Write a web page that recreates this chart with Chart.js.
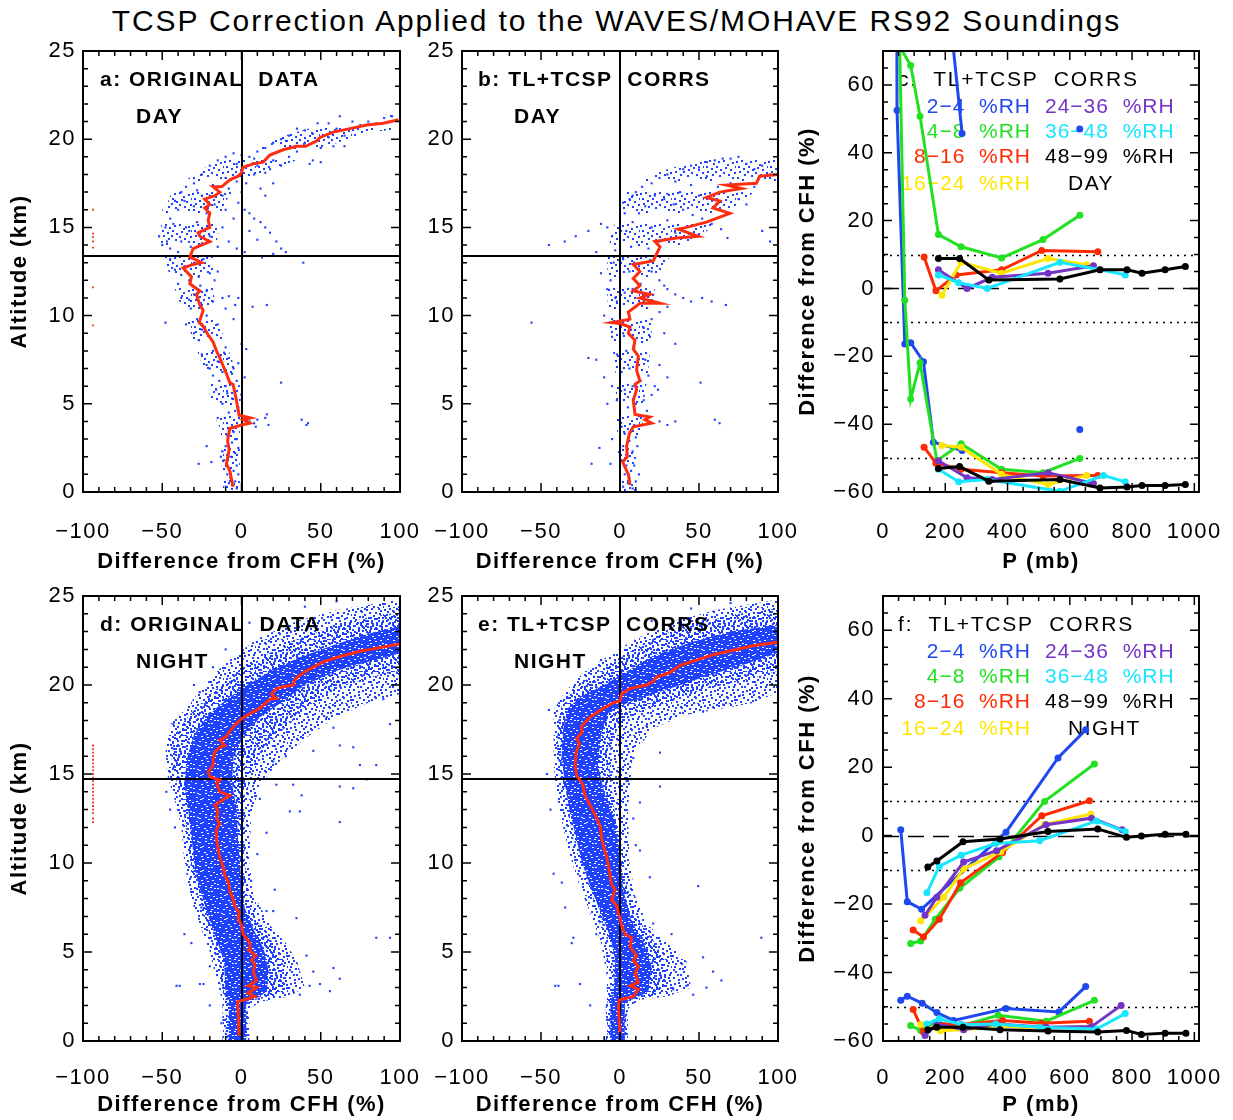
<!DOCTYPE html>
<html lang="en">
<head>
<meta charset="UTF-8">
<title>TCSP Correction Applied to the WAVES/MOHAVE RS92 Soundings</title>
<script src="https://cdn.jsdelivr.net/npm/chart.js@4.4.0/dist/chart.umd.min.js"></script>
<style>
    body { margin: 0; background: #fff; width: 1233px; height: 1120px; position: relative; overflow: hidden;
           font-family: "Liberation Sans", Arial, sans-serif; }
    #title { position: absolute; top: 1px; left: 0; width: 1233px; text-align: center;
             font-size: 30px; line-height: 40px; letter-spacing: 1.9px; color: #000; }
    canvas { position: absolute; left: 0; top: 0; }
</style>
</head>
<body>
<div id="title">TCSP Correction Applied to the WAVES/MOHAVE RS92 Soundings</div>
<canvas id="pa" width="1233" height="1120"></canvas>
<canvas id="pb" width="1233" height="1120"></canvas>
<canvas id="pc" width="1233" height="1120"></canvas>
<canvas id="pd" width="1233" height="1120"></canvas>
<canvas id="pe" width="1233" height="1120"></canvas>
<canvas id="pf" width="1233" height="1120"></canvas>

<script>
// ---- tick labels ----
var diffTicks = [-100, -50, 0, 50, 100];
var altTicks = [0, 5, 10, 15, 20, 25];
var pTicks = [0, 200, 400, 600, 800, 1000];
var pctTicks = [-60, -40, -20, 0, 20, 40, 60];

// ---- data: profile panels (x = difference from CFH %, y = altitude km) ----
var tropoDay = 13.4;
var tropoNight = 14.7;

// mean profile, panel a
var redA = [[-5.3,0.3],[-7.4,1.2],[-9.5,1.6],[-7.8,2.4],[-8.8,2.9],[-7.4,3.6],[0,3.8],[5.3,3.9],[1,4.1],[5.6,4.2],[-1.5,4.35],[-3.2,5.2],[-5.3,6.1],[-7.4,6.2],[-9.5,6.7],[-13.7,7.6],[-15.8,8.0],[-17.9,8.5],[-21,8.9],[-24.2,9.4],[-26.7,9.6],[-24.2,10.3],[-26.3,10.6],[-28.4,11.2],[-26.3,11.4],[-32.6,11.8],[-31.6,12.2],[-35.8,12.6],[-36.8,12.7],[-30.5,12.9],[-25.3,13.0],[-29.5,13.2],[-32.6,13.3],[-30.5,13.8],[-25.3,14.0],[-20,14.2],[-26.3,14.5],[-27.4,14.7],[-20,15.0],[-21,15.4],[-20,15.8],[-23.2,16.1],[-20,16.3],[-23.2,16.6],[-16.8,16.8],[-13.7,17.0],[-17.9,17.3],[-12.6,17.3],[-7.4,17.7],[-2.1,17.9],[0,18.1],[1,18.4],[7.4,18.6],[13.7,18.7],[17.9,19.1],[26.3,19.4],[34.7,19.6],[40.5,19.6],[47.4,19.9],[49.5,20.1],[57.9,20.4],[68.4,20.6],[78.9,20.8],[89.5,20.9],[99,21.1]];
var dotsA = [
  [-10,0.3],[-8,0.5],[-6,0.4],[-4,0.6],[-3,0.2],[-9,1.0],[-5,1.2],[-3,1.5],[-11,1.8],[-7,2.0],[-4,2.2],[-10,2.6],[-6,2.8],[-3,3.0],[-9,3.2],[-5,3.4],[-12,2.3],[-2,1.0],[-2,2.5],[-27,1.6],[-19,1.7],[-22,2.6],[-13,2.0],[-7,0.8],[-11,1.3],[-4,3.0],[-8,3.5],
  [-15,4.2],[-8,4.5],[-2,4.8],[-12,5.0],[-6,5.3],[0,5.5],[-16,5.8],[-10,6.0],[-3,6.3],[-18,6.6],[-12,6.8],[-5,7.0],[-22,7.2],[-15,7.4],[-8,7.6],[-2,7.3],[-25,7.8],[-18,8.0],[-10,8.2],[5,4.0],[8,3.9],[10,4.1],[15,4.2],[17,3.8],[38,4.1],[42,3.9],[41,3.8],[25,6.2],[2,6.5],[0,8.4],[3,8.1],[-4,4.6],[-9,5.6],[-14,6.3],[-20,7.0],[-6,6.7],[-11,7.9],[16,4.4],[9,3.7],
  [-30,9.0],[-25,9.2],[-20,8.8],[-35,9.5],[-28,9.8],[-22,10.0],[-15,9.5],[-32,10.4],[-25,10.6],[-18,10.8],[-38,11.0],[-30,11.2],[-22,11.4],[-12,11.0],[-40,11.8],[-33,12.0],[-27,12.2],[-20,12.4],[-42,12.6],[-36,12.8],[-30,13.0],[-24,13.2],[-45,13.2],[-15,12.5],[-8,11.1],[-2,11.0],[-10,10.4],[-5,9.8],[-48,9.6],[7,10.5],[16,10.6],[39,13.0],[-27,8.6],[-33,10.9],[-38,12.3],[-26,11.7],[-17,12.0],[-4,10.6],
  [-50,14],[-52,14.5],[-48,15],[-45,15.5],[-40,16],[-42,16.5],[-38,17],[-35,17.3],[-30,17.5],[-25,18],[-20,18.5],[-15,18.8],[-10,19],[-5,19.2],[-45,13.8],[-38,14.2],[-33,14.8],[-28,15.3],[-22,15.8],[-17,16.3],[-12,16.8],[-8,17.2],[-3,17.6],[-35,15],[-30,16.2],[-25,16.8],[-18,17.4],[-10,17.8],[-12,15],[-8,14.2],[-5,15.5],[-2,16.4],[2,16],[5,15.8],[8,15.5],[12,15.3],[15,15],[18,14.7],[22,14.2],[25,13.8],[28,13.6],[10,14.3],[5,14.8],[0,17],[3,17.5],[8,18],[12,17.2],[15,16.8],[20,17.5],[18,18.3],[25,18.5],[-20,14.5],[-15,13.9],[-25,14.1],[-10,16],[-20,16.8],[13,13.3],[20,13.5],[2,13.6],[-3,13.8],[-47,14.2],[-43,15.2],[-36,16.5],[-28,17.1],[-40,13.6],[-32,13.9],
  [5,19],[10,19.3],[15,19.5],[20,19.8],[25,20],[30,20.2],[35,19.3],[40,19.8],[45,20.3],[50,19.5],[55,20.1],[60,20.6],[65,20.2],[70,21],[75,20.8],[80,21],[85,20.9],[90,21.2],[95,21.3],[100,21],[30,19],[40,20.5],[20,18.8],[45,18.8],[35,20.6],[55,20.9],[62,21.3],[48,20.9],[28,19.9],[58,19.6],[65,19.6],[43,18.6],[50,18.7],[10,18.5],[0,19.1],[-3,18.6],[15,18.1],[8,18.9]
];
var flagA = [[-93.7,16.0],[-93.7,14.65],[-93.7,14.45],[-93.7,14.2],[-93.7,13.85],[-93.7,11.6],[-93.7,9.45]];
var bandA = [[-12,0],[-13,3.5],[-18,4.5],[-22,6.5],[-30,8.5],[-36,10],[-42,11.5],[-48,13],[-52,14.2],[-50,15.5],[-45,16.8],[-38,17.5],[-25,18.3],[-8,19],[10,19.5],[30,20.3],[55,20.9],[100,21.5],[100,20.6],[75,20.3],[55,19.6],[35,18.8],[15,18.2],[0,17.6],[-10,16.5],[-15,14.5],[-18,13],[-18,11.5],[-14,9.5],[-6,7.5],[-1,6],[0,4.5],[-1,3.5],[-1,0]];
var coreA = [[-11,0],[-12,3.5],[-16,5],[-20,7],[-27,8.5],[-33,10],[-38,11.5],[-42,12.8],[-50,13.8],[-50,16],[-42,17],[-32,17.3],[-24,16],[-24,14],[-26,12.5],[-22,11],[-17,9.5],[-10,8],[-4,6],[-2,4.5],[-2,3.5],[-2,0]];

// mean profile, panel b
var redB = [[6.3,0.4],[5.3,1.0],[3.2,1.4],[1.7,1.7],[4.6,2.0],[4.2,2.6],[5.9,3.3],[8.4,3.7],[20,3.9],[15.8,4.1],[18.9,4.25],[9.5,4.4],[8.4,5.2],[10.5,5.8],[9.5,6.1],[12.6,6.3],[10.5,6.9],[11.6,7.7],[8.4,8.1],[9.5,8.6],[5.3,9.0],[6.3,9.35],[0,9.55],[-5.3,9.6],[6.3,9.8],[5.3,10.2],[12.6,10.7],[25.3,10.7],[12.6,11.0],[18.9,11.2],[8.4,11.4],[12.6,11.7],[8.4,12.1],[12.6,12.5],[8.4,12.9],[21,13.1],[23.2,13.5],[25.3,13.9],[22.1,14.2],[35.8,14.4],[49.5,14.5],[36.8,14.9],[42.1,15.0],[54.7,15.3],[69.5,15.8],[58.9,16.1],[63.2,16.5],[54.7,16.7],[63.2,17.0],[76.8,17.2],[67.4,17.4],[86.3,17.5],[88.4,17.9],[100,18.0]];
var dotsB = [
  [2,0.3],[5,0.5],[8,0.2],[10,0.6],[3,1],[7,1.2],[9,1.5],[1,1.8],[4,2.1],[8,2.3],[2,2.6],[6,2.9],[10,3.1],[3,3.3],[7,3.5],[1,3.7],[-6,1.6],[-13,2.5],[-18,1.6],[-5,3],[12,1],[6,0.8],[4,1.5],[11,2.6],[9,3.8],
  [0,4.5],[5,4.8],[10,5],[15,5.2],[20,5.5],[3,5.8],[8,6],[13,6.3],[18,6.6],[1,6.8],[6,7],[11,7.3],[16,7.5],[-2,7.8],[4,8],[9,8.2],[14,8.5],[19,8.8],[2,9],[7,9.2],[25,4],[30,3.8],[35,4],[60,4.1],[63,3.9],[51,6.2],[30,6.5],[25,7.2],[-10,6.5],[-15,7.5],[-20,7.6],[-5,6],[-8,5],[22,6],[35,8.4],[28,9],[-5,8.8],[-3,9.6],[-56,9.6],[12,4.3],[17,4.6],[24,5.8],[-2,5.2],
  [-5,9.8],[0,10],[5,10.2],[10,10.5],[15,10.8],[-3,11],[3,11.3],[8,11.5],[13,11.8],[-6,12],[0,12.2],[6,12.5],[12,12.8],[-4,13],[2,13.2],[20,12.5],[25,12],[30,11.5],[35,11.2],[40,11],[45,10.8],[52,11],[58,10.8],[67,10.6],[20,9.8],[25,10.2],[30,10.5],[-10,10],[-12,12.4],[-8,11.5],[15,9.3],[28,11.7],[18,11.1],[-2,10.8],[9,13],
  [-45,14],[-35,14.2],[-28,14.5],[-20,14.8],[-12,15.2],[-8,15],[-5,14.5],[0,14.3],[4,14.8],[8,15.3],[12,15.8],[16,16.2],[6,16.6],[2,16.4],[10,17],[14,17.3],[20,17.5],[25,17.8],[30,18],[35,17.6],[40,18.3],[45,18.5],[50,18.4],[55,18.7],[60,18.8],[65,18.9],[70,18.9],[75,19],[80,18.6],[85,18.3],[90,18.5],[95,18],[100,18.2],[22,16.8],[28,16.6],[34,16.3],[40,16],[46,15.7],[52,15.5],[58,15.2],[64,14.9],[68,14.4],[30,15.4],[20,15],[25,14.2],[35,14.7],[45,14.4],[18,13.8],[12,14],[90,14.8],[95,14.2],[80,16.3],[85,17.3],[70,17.5],[75,16.6],[62,17.3],[50,16.8],[38,17],[45,17.4],[55,17.9],[30,16.9],[-15,13.6],[-3,13.7],[7,13.9],[3,15.8],[8,16.8]
];
var bandB = [[2,0],[-1,1.5],[-2,4],[-3,7],[-6,9],[-8,11],[-8,13],[-6,14.5],[-2,15.5],[5,17.2],[15,17.8],[30,18.3],[50,18.8],[75,19],[100,18.8],[100,17.5],[85,17],[70,16],[55,14.8],[40,14],[28,13],[22,11.5],[20,9],[18,7],[15,5],[14,3.5],[10,2.5],[10,0]];
var coreB = [[3,0],[0,1.5],[-1,4],[0,7],[-2,9],[-5,11],[-5,13],[0,13.5],[10,13],[15,11],[15,8],[14,6],[12,4],[10,2.5],[9,0]];

// mean profile, panel d
var redD = [[-1.5,0.3],[-2.1,1.5],[-2.5,2.2],[1,2.3],[8.4,2.5],[4.2,2.7],[9.5,3.0],[4.2,3.1],[9.5,3.4],[7.4,3.9],[8.4,4.3],[6.3,4.55],[9,4.8],[4.8,5.1],[5.3,5.5],[1,6],[0,6.5],[-2.1,6.9],[-1.5,7.2],[-4.2,7.6],[-5.3,8],[-7.4,8.4],[-8.4,8.95],[-10.5,9.3],[-11.6,9.8],[-13.7,10.3],[-14.7,10.8],[-15.8,11.4],[-15.8,11.9],[-13.7,12.2],[-15.8,12.5],[-14.7,12.9],[-16.8,13.25],[-12.6,13.5],[-7.4,13.8],[-13.7,14],[-15.8,14.5],[-13.7,14.65],[-20,14.85],[-21,15.1],[-17.9,15.5],[-17.9,15.9],[-16.8,16.25],[-13.7,16.5],[-10.5,16.6],[-13.7,16.9],[-9.5,17.1],[-7.4,17.4],[-4.2,17.75],[0,18.1],[5.3,18.4],[11.6,18.7],[17.9,19.2],[22.1,19.25],[18.9,19.5],[22.1,19.8],[26.3,19.9],[32.6,20],[33.7,20.3],[36.8,20.55],[41,20.8],[45.3,21.0],[51.6,21.3],[62,21.6],[74.7,21.9],[87.4,22.1],[100,22.3]];
var outD = [[-47.4,14],[-43,17.8],[-26.3,19.6],[-41,3.1],[-39,3.1],[-31.6,5.5],[-26.3,3.2],[-24,3.2],[-20,2.0],[-12.6,1.0],[-25.3,7.5],[58,4.1],[62,3.5],[55.8,2.8],[49.5,3.2],[43,3.1],[36.8,2.6],[32.6,2.8],[41,4.8],[45.3,3.9],[85,5.8],[93.7,5.8],[62,12.3],[36.8,12.9],[30.5,12.9],[37.9,13.8],[62,14.3],[70.5,14.2],[32.6,14.4],[11.6,13.6],[15.8,11.7],[21,8.5],[15.8,7.3],[20,7.3],[34.7,6.9],[22,14.4],[20,15.7],[45.3,16.3],[62,16.6],[70.5,16.5],[74.7,15.5],[85,15.5],[93.7,17.8],[78.9,14.7],[53.7,18.2],[58,17.6],[89.5,19.2],[95.8,20],[-18,21],[-10,22],[5,23.5],[40,24.4],[60,24.7],[-30,20],[28,16],[10,10.5],[6,9],[-36,6],[-20,4.2],[-42,12],[-45,13]];
var flagD = [[-93.7,12.3],[-93.7,12.5],[-93.7,12.8],[-93.7,13.0],[-93.7,13.2],[-93.7,13.4],[-93.7,13.6],[-93.7,13.8],[-93.7,14.0],[-93.7,14.2],[-93.7,14.4],[-93.7,14.6],[-93.7,14.8],[-93.7,15.0],[-93.7,15.2],[-93.7,15.4],[-93.7,15.6],[-93.7,15.8],[-93.7,16.0],[-93.7,16.2],[-93.7,16.4],[-93.7,16.6]];
var coreD = [[-8,0],[-8,2.3],[-10,2.6],[-11,4.5],[-15,5.5],[-20,6.8],[-25,8.2],[-29,9.5],[-31,11],[-33,12.5],[-35,13.8],[-36,14.6],[-34,16],[-30,17.2],[-22,18.2],[-12,19],[0,19.8],[15,20.6],[35,21.5],[60,22.3],[85,23],[100,23.3],[100,21.8],[80,21.3],[60,20.8],[40,20],[25,19],[12,18.2],[2,17.2],[-5,16],[-6,14.5],[-3,13],[-2,11],[0,9],[2,7.5],[8,6.2],[14,5.2],[17,4],[16,2.8],[10,2.4],[3,2.2],[3,0]];
var midD = [[-10,0],[-10,2.3],[-13,3],[-14,4.5],[-18,5.5],[-23,6.8],[-28,8.2],[-32,9.8],[-34,11.5],[-37,13],[-40,14.3],[-44,15.5],[-44,16.8],[-38,17.8],[-30,18.6],[-18,19.6],[-6,20.5],[10,21.4],[30,22.4],[55,23.2],[80,23.8],[100,24.1],[100,20.8],[80,20.4],[60,19.8],[45,19],[30,17.8],[18,16.8],[8,15.5],[2,13.5],[2,11],[3,9],[5,7.6],[12,6.4],[20,5.5],[26,4.4],[28,3],[20,2.5],[8,2.3],[4,2],[4,0]];
var haloD = [[-12,0],[-12,2.2],[-16,3.5],[-20,5],[-25,6.2],[-32,8],[-36,10],[-38,12],[-42,13.5],[-47,15],[-48,16.5],[-45,17.8],[-36,18.6],[-25,19.8],[-15,20.8],[-5,21.6],[10,22.6],[35,23.6],[60,24.2],[100,24.8],[100,19.5],[80,19],[60,18.2],[40,17],[25,15.8],[12,14.5],[6,12.5],[5,10],[8,8.2],[18,6.5],[28,5.5],[35,4.5],[40,3],[30,2.5],[12,2.2],[5,1.8],[5,0]];

// mean profile, panel e
var redE = [[0,0.4],[-0.6,1.3],[-1,2],[-0.4,2.3],[8.4,2.5],[11.6,2.9],[6.3,3.1],[11.6,3.3],[9.5,3.8],[11.6,4.2],[8.4,4.5],[10.5,4.8],[6.3,5.3],[7.4,5.8],[3.2,6.0],[1,6.5],[0,6.9],[-1,7.2],[-2.1,7.6],[-5.3,7.9],[-3.2,8.5],[-5.3,8.8],[-6.3,9.3],[-7.4,9.9],[-8.4,10.3],[-10,10.8],[-11.6,11.4],[-12.6,12.1],[-15.8,12.7],[-18.9,13.25],[-22.1,13.8],[-23.6,14.4],[-25.3,14.65],[-27.4,14.9],[-28.4,15.5],[-27.8,16.2],[-25.7,16.7],[-27.4,17],[-24.6,17.3],[-24.2,17.7],[-18.9,18.2],[-10.5,18.7],[-4.2,19],[0,19.1],[1,19.5],[6.3,19.8],[16.8,20],[21,20.2],[23.2,20.45],[31.6,20.7],[37.9,21.1],[48.4,21.4],[58.9,21.7],[71.6,21.95],[84.2,22.2],[100,22.4]];
var outE = [[-41,3.1],[-39,3.1],[-30.5,5.5],[-25.3,3.2],[-18.9,2.0],[-42,9.4],[-36.8,8.9],[-34.7,7.5],[-29.5,5.8],[-46.3,15],[-45,18.6],[64.2,3.4],[58.9,3.9],[52.6,4.7],[42,3.1],[33.7,2.9],[46.3,2.6],[54.7,3.0],[49.5,8.7],[89.5,5.8],[25.3,16.2],[25.3,14.3],[12.6,10.7],[18.9,9.2],[32.6,6.0],[21,6.6],[12.6,13.4],[8.4,12.5],[4.2,14.6],[8.4,15.9],[16.8,17.7],[31.6,18.1],[52.6,18.5],[65.3,18.9],[75.8,19.4],[84.2,19.6],[-12,21.4],[0,22.5],[20,23.6],[45,24.3],[70,24.6],[-8,4.5],[-15,6],[10,11],[-44,13]];
var coreE = [[-6,0],[-6,2.3],[-4,2.6],[-3,4.5],[-6,5.8],[-12,7.2],[-18,8.5],[-24,10],[-28,11.5],[-32,13],[-35,14.5],[-37,16],[-36,17.5],[-33,18.7],[-24,19.4],[-10,20],[5,20.8],[20,21.6],[45,22.4],[70,23],[100,23.4],[100,21.8],[80,21.2],[55,20.5],[35,19.9],[18,19.4],[5,19],[-8,18.4],[-12,17.2],[-14,15.5],[-10,14],[-4,12.5],[0,10.5],[2,8.5],[7,6.8],[15,5.5],[20,4.2],[18,2.8],[10,2.4],[3,2.2],[3,0]];
var midE = [[-8,0],[-8,2.3],[-6,3],[-5,4.5],[-9,6],[-15,7.5],[-21,9],[-27,10.5],[-31,12],[-35,13.5],[-38,15],[-40,16.5],[-39,18],[-36,19.2],[-25,20.1],[-10,20.9],[5,21.8],[25,22.8],[50,23.5],[75,24],[100,24.3],[100,20.8],[80,20.3],[55,19.8],[35,19.2],[18,18.7],[2,18],[-5,17],[-6,15],[-4,13.2],[1,11],[4,8.8],[10,7],[20,5.8],[28,4.6],[30,3],[20,2.5],[8,2.3],[4,2],[4,0]];
var haloE = [[-9,0],[-9,2.2],[-8,3.5],[-12,5.5],[-18,7],[-26,8.8],[-32,10.5],[-36,12],[-40,13.8],[-42,15.5],[-42,17.2],[-42,18.6],[-35,19.6],[-22,20.8],[-8,21.6],[10,22.6],[35,23.6],[60,24.2],[100,24.8],[100,19.6],[85,19],[60,18.6],[40,18.3],[20,17.5],[8,16],[5,13],[6,10],[10,8],[18,6.5],[30,5.5],[42,4.5],[45,3],[30,2.5],[12,2.3],[5,1.8],[5,0]];

// ---- data: pressure panels (x = P mb, y = difference from CFH %) ----
var rhBins = ['2\u22124  %RH', '4\u22128  %RH', '8\u221216  %RH', '16\u221224  %RH', '24\u221236  %RH', '36\u221248  %RH', '48\u221299  %RH'];

var cBlueLo = [[44,110],[45,52.5],[70,-16.4],[89,-16],[130,-21.6],[162,-45.3],[254,-47.8]];
var cBlueHi = [[200,94],[254,45.7]];
var cBlueLone = [[632,47],[632,-41.6]];
var cGreenHi = [[40,73.5],[89,65.7],[119,50.8],[178,15.9],[251,12.3],[381,9],[514,14.4],[632,21.6]];
var cGreenLo = [[45,110],[70,-3.5],[89,-32.6],[119,-21.9],[173,-50.8],[251,-45.8],[381,-53.3],[514,-54.3],[632,-50.1]];
var cRedHi = [[132,9.3],[170,-0.7],[235,4],[381,5.5],[510,11.2],[690,10.8]];
var cRedLo = [[132,-46.8],[170,-51.5],[251,-53.3],[381,-54.3],[514,-55.3],[690,-55.1]];
var cYellowHi = [[189,-2],[251,7.7],[381,4.5],[530,8.8],[654,7.0]];
var cYellowLo = [[189,-46.3],[251,-46.8],[381,-54.8],[530,-57.8],[654,-55.1]];
var cPurpleHi = [[178,5.5],[270,0],[351,3.3],[530,4.5],[676,6.7]];
var cPurpleLo = [[178,-50.8],[270,-55.8],[351,-56.3],[530,-54.3],[676,-57.5]];
var cCyanHi = [[178,4],[243,1.7],[335,0],[568,7.7],[697,5.5],[778,4]];
var cCyanLo = [[178,-53.3],[243,-57],[335,-56.3],[568,-59.8],[708,-55.1],[778,-57]];
var cBlackHi = [[178,8.8],[246,8.8],[340,2.5],[568,2.8],[697,5.5],[784,5.5],[832,4.5],[906,5.5],[971,6.5]];
var cBlackLo = [[178,-53.1],[246,-52.5],[340,-56.8],[568,-56.3],[697,-58.8],[784,-58.5],[832,-58.1],[906,-58.1],[971,-57.8]];

var fBlueHi = [[57,1.7],[78,-19.3],[124,-21.5],[395,1],[562,22.7],[651,30.9]];
var fBlueLo = [[57,-48.1],[78,-46.9],[126,-49],[173,-51.7],[227,-54],[395,-50.5],[565,-51.5],[651,-44.1]];
var fGreenHi = [[89,-31.5],[121,-30.8],[168,-24.4],[246,-15.4],[373,-6.2],[519,10],[679,20.9]];
var fGreenLo = [[89,-55.5],[121,-56.9],[168,-54.5],[243,-55.8],[370,-52.5],[524,-54.2],[679,-48.1]];
var fRedHi = [[97,-27.6],[130,-29.6],[181,-24.4],[249,-13.8],[384,-4.9],[510,5.8],[663,10.2]];
var fRedLo = [[97,-50.8],[130,-57.4],[181,-55],[251,-55.2],[384,-54],[508,-54.8],[663,-54.2]];
var fYellowHi = [[121,-24.9],[195,-18],[259,-9.7],[378,-4.7],[519,3.3],[668,6.3]];
var fYellowLo = [[121,-55.2],[184,-57],[259,-56.7],[378,-55.8],[519,-56.2],[668,-55.8]];
var fPurpleHi = [[135,-23.3],[173,-18],[259,-7.7],[365,-4.4],[524,3.2],[670,5.1],[768,1.7]];
var fPurpleLo = [[135,-58.4],[173,-55],[259,-56.7],[365,-55],[524,-56],[670,-55.8],[765,-49.6]];
var fCyanHi = [[141,-16.7],[181,-9],[251,-5.7],[362,-2.3],[503,-1.5],[686,4.3],[778,1.2]];
var fCyanLo = [[141,-55],[181,-53.5],[251,-55.2],[362,-55],[503,-56],[686,-56.5],[778,-52]];
var fBlackHi = [[144,-9.2],[173,-7.4],[257,-1.8],[376,-1],[530,1.2],[690,1.9],[782,-0.5],[830,-0.1],[906,0.4],[973,0.4]];
var fBlackLo = [[144,-56.7],[173,-56],[257,-56],[376,-56.7],[530,-57.1],[690,-57.4],[782,-56.9],[830,-58.1],[906,-57.7],[973,-57.7]];

// ---- styling ----
var W = 1233, H = 1120;
var FONT = '"Liberation Sans", Arial, sans-serif';
var DOT = 'rgb(30,66,255)';
var PROF = 'rgb(255,45,15)';
var COL = { blue: '#1f48ee', green: '#22e022', red: '#ff2a00', yellow: '#ffe600', purple: '#7434c4', cyan: '#18e6ff', black: '#000000' };

Chart.defaults.font.family = FONT;
Chart.defaults.color = '#000';

function xy(arr) { return arr.map(function(p) { return { x: p[0], y: p[1] }; }); }
function fmt(v) { return v < 0 ? '\u2212' + Math.abs(v) : String(v); }

// speckle layouts for the dot textures that shade the dense parts of the clouds
var SPECK = [[0,1],[5,0],[9,3],[14,1],[19,0],[23,4],[28,2],[31,6],[2,6],[7,8],[12,6],[16,9],[21,7],[26,9],[30,12],[3,11],
             [8,14],[11,11],[15,15],[19,12],[24,14],[28,17],[1,17],[6,19],[10,18],[13,21],[18,18],[22,20],[26,22],[30,24],[2,23],[7,25],
             [11,27],[15,24],[19,27],[23,25],[27,28],[31,30],[4,29],[9,31],[14,30],[17,22],[21,30],[25,31],[29,20],[0,27],[5,14],[17,4],
             [12,0],[26,0],[3,3],[20,15],[10,8],[24,10],[29,14],[6,22],[16,28],[13,17],[27,5],[8,2],[22,24],[1,9],[18,9],[30,27]];
var GAPS = [[1,0],[7,2],[13,1],[19,3],[22,0],[4,5],[10,6],[16,7],[21,8],[0,10],[6,11],[12,12],[18,11],[23,13],[3,15],
            [9,16],[15,17],[20,16],[1,20],[7,21],[13,22],[19,21],[5,1],[16,3],[10,19],[22,19],[4,9],[14,14],[8,7],[18,23]];

function texture(ctx, kind) {
    var c = document.createElement('canvas');
    var g = c.getContext('2d');
    if (kind === 'core') {
        c.width = c.height = 24;
        g.fillStyle = DOT;
        g.fillRect(0, 0, 24, 24);
        g.fillStyle = '#fff';
        GAPS.forEach(function(p) { g.fillRect(p[0], p[1], 2, 1); });
    } else {
        c.width = c.height = 32;
        g.fillStyle = DOT;
        var list = kind === 'sparse' ? SPECK.slice(0, 24) : SPECK;
        list.forEach(function(p) { g.fillRect(p[0], p[1], 2, 2); });
        if (kind === 'mid') SPECK.forEach(function(p) { g.fillRect((p[0] + 15) % 32, (p[1] + 17) % 32, 2, 2); });
    }
    return ctx.createPattern(c, 'repeat');
}

var DECO = {};

var decoPlugin = {
    id: 'deco',
    beforeInit: function(chart) { chart.ctx.letterSpacing = '1.5px'; },
    beforeDraw: function(chart) { chart.ctx.letterSpacing = '1.5px'; },
    beforeDatasetsDraw: function(chart) {
        var d = DECO[chart.canvas.id], ctx = chart.ctx, a = chart.chartArea;
        var x = chart.scales.x, y = chart.scales.y;
        ctx.save();
        ctx.beginPath();
        ctx.rect(a.left, a.top, a.right - a.left, a.bottom - a.top);
        ctx.clip();
        (d.polys || []).forEach(function(p) {
            ctx.beginPath();
            p.pts.forEach(function(q, i) {
                var px = x.getPixelForValue(q[0]), py = y.getPixelForValue(q[1]);
                if (i) ctx.lineTo(px, py); else ctx.moveTo(px, py);
            });
            ctx.closePath();
            ctx.fillStyle = texture(ctx, p.kind);
            ctx.fill();
        });
        (d.guides || []).forEach(function(l) {
            var py = Math.round(y.getPixelForValue(l.y)) + 0.5;
            ctx.beginPath();
            ctx.setLineDash(l.dash);
            ctx.lineWidth = l.w;
            ctx.strokeStyle = '#000';
            ctx.moveTo(a.left, py);
            ctx.lineTo(a.right, py);
            ctx.stroke();
        });
        ctx.restore();
        if (d.textUnder) drawTexts(chart, d.texts);
    },
    afterDatasetDraw: function(chart, args) {
        var d = DECO[chart.canvas.id];
        if (d.linesAfter !== args.index) return;
        var ctx = chart.ctx, a = chart.chartArea, x = chart.scales.x, y = chart.scales.y;
        ctx.save();
        ctx.strokeStyle = '#000';
        ctx.lineWidth = 2;
        ctx.beginPath();
        var px = Math.round(x.getPixelForValue(0));
        ctx.moveTo(px, a.top); ctx.lineTo(px, a.bottom);
        var py = Math.round(y.getPixelForValue(d.tropo));
        ctx.moveTo(a.left, py); ctx.lineTo(a.right, py);
        ctx.stroke();
        ctx.restore();
    },
    afterDatasetsDraw: function(chart) {
        var d = DECO[chart.canvas.id], ctx = chart.ctx, a = chart.chartArea;
        var x = chart.scales.x, y = chart.scales.y;
        ctx.save();
        ctx.strokeStyle = '#000';
        ctx.lineWidth = 2;
        ctx.strokeRect(a.left, a.top, a.right - a.left, a.bottom - a.top);
        ctx.lineWidth = 1.5;
        ctx.beginPath();
        var v, p, len;
        for (v = x.min; v <= x.max + 1e-6; v += d.xMinor) {
            p = x.getPixelForValue(v);
            len = Math.abs(v / d.xMajor - Math.round(v / d.xMajor)) < 1e-6 ? 9 : 5;
            ctx.moveTo(p, a.bottom); ctx.lineTo(p, a.bottom - len);
            ctx.moveTo(p, a.top); ctx.lineTo(p, a.top + len);
        }
        for (v = Math.ceil(y.min / d.yMinor) * d.yMinor; v <= y.max + 1e-6; v += d.yMinor) {
            p = y.getPixelForValue(v);
            len = Math.abs(v / d.yMajor - Math.round(v / d.yMajor)) < 1e-6 ? 9 : 5;
            ctx.moveTo(a.left, p); ctx.lineTo(a.left + len, p);
            ctx.moveTo(a.right, p); ctx.lineTo(a.right - len, p);
        }
        ctx.stroke();
        ctx.restore();
        if (!d.textUnder) drawTexts(chart, d.texts);
    }
};

function drawTexts(chart, texts) {
    var ctx = chart.ctx, a = chart.chartArea;
    ctx.save();
    ctx.textBaseline = 'middle';
    texts.forEach(function(t) {
        ctx.letterSpacing = (t.s === undefined ? 1.5 : t.s) + 'px';
        ctx.font = t.f + ' ' + FONT;
        ctx.fillStyle = t.c || '#000';
        ctx.textAlign = t.a || 'left';
        ctx.fillText(t.t, a.left + t.x, a.top + t.y);
    });
    ctx.restore();
}

function axis(s, size, dir) {
    return {
        type: 'linear', min: s.min, max: s.max,
        grid: { display: false, drawTicks: false },
        border: { display: false },
        ticks: { padding: s.pad, font: { size: 22 }, color: '#000', callback: fmt, maxRotation: 0, autoSkip: false },
        title: { display: !!s.title, text: s.title || '', font: { size: 22, weight: 'bold' }, color: '#000', padding: 0 },
        afterBuildTicks: function(scale) { scale.ticks = s.ticks.map(function(v) { return { value: v }; }); },
        afterFit: function(scale) {
            if (dir === 'x') scale.height = size; else scale.width = size;
            scale.paddingLeft = scale.paddingRight = scale.paddingTop = scale.paddingBottom = 0;
        }
    };
}

function panel(id, box, xs, ys, datasets) {
    return new Chart(document.getElementById(id), {
        type: 'scatter',
        data: { datasets: datasets },
        options: {
            responsive: false, animation: false, devicePixelRatio: 1, events: [],
            layout: { padding: { left: box.l - box.wy, top: box.t, right: W - box.r, bottom: H - box.b - box.hx } },
            plugins: { legend: { display: false }, tooltip: { enabled: false } },
            scales: { x: axis(xs, box.hx, 'x'), y: axis(ys, box.wy, 'y') }
        },
        plugins: [decoPlugin]
    });
}

function profileSet(red, dots, flags) {
    var sets = [
        { data: xy(red), showLine: true, borderColor: PROF, borderWidth: 3, pointRadius: 0, tension: 0 },
        { data: xy(dots), pointStyle: 'rect', pointRadius: 1.5, pointBorderWidth: 0, backgroundColor: DOT }
    ];
    if (flags) sets.push({ data: xy(flags), pointStyle: 'rect', pointRadius: 1.3, pointBorderWidth: 0, backgroundColor: PROF });
    return sets;
}

function rhSets(list) {
    return list.map(function(s) {
        return { data: xy(s.d), showLine: !s.lone, borderColor: s.c, backgroundColor: s.c, borderWidth: 3,
                 pointRadius: 3.5, pointBorderWidth: 0, tension: 0 };
    });
}

function rhTexts(head, tag) {
    var N = '21px';
    return [
        { t: head, x: 15, y: 29, f: N, s: 1.8 },
        { t: rhBins[0], x: 148, y: 56, f: N, c: COL.blue, a: 'right', s: 1 },
        { t: rhBins[1], x: 148, y: 81, f: N, c: COL.green, a: 'right', s: 1 },
        { t: rhBins[2], x: 148, y: 106, f: N, c: COL.red, a: 'right', s: 1 },
        { t: rhBins[3], x: 148, y: 133, f: N, c: COL.yellow, a: 'right', s: 1 },
        { t: rhBins[4], x: 162, y: 56, f: N, c: COL.purple, s: 1 },
        { t: rhBins[5], x: 162, y: 81, f: N, c: COL.cyan, s: 1 },
        { t: rhBins[6], x: 162, y: 106, f: N, c: COL.black, s: 1 },
        { t: tag, x: 185, y: 133, f: N, s: 1.5 }
    ];
}

var profX = { min: -100, max: 100, ticks: diffTicks, pad: 27, title: 'Difference from CFH (%)' };
var profXb = { min: -100, max: 100, ticks: diffTicks, pad: 24, title: 'Difference from CFH (%)' };
var altY = { min: 0, max: 25, ticks: altTicks, pad: 7, title: 'Altitude (km)' };
var altYn = { min: 0, max: 25, ticks: altTicks, pad: 7 };
var pX = { min: 0, max: 1015, ticks: pTicks, pad: 27, title: 'P (mb)' };
var pXb = { min: 0, max: 1015, ticks: pTicks, pad: 24, title: 'P (mb)' };
var dY = { min: -60, max: 70, ticks: pctTicks, pad: 8, title: 'Difference from CFH (%)' };

var rhGuides = [{ y: 0, dash: [16, 9], w: 1.5 }, { y: 10, dash: [2, 5], w: 1.5 }, { y: -10, dash: [2, 5], w: 1.5 }, { y: -50, dash: [2, 5], w: 1.5 }];

DECO.pa = { xMinor: 10, xMajor: 50, yMinor: 1, yMajor: 5, tropo: tropoDay, linesAfter: 1,
            polys: [{ pts: bandA, kind: 'sparse' }, { pts: coreA, kind: 'sparse' }],
            texts: [{ t: 'a: ORIGINAL  DATA', x: 17, y: 29, f: 'bold 21px' }, { t: 'DAY', x: 53, y: 66, f: 'bold 21px' }] };
DECO.pb = { xMinor: 10, xMajor: 50, yMinor: 1, yMajor: 5, tropo: tropoDay, linesAfter: 1,
            polys: [{ pts: bandB, kind: 'sparse' }, { pts: coreB, kind: 'sparse' }],
            texts: [{ t: 'b: TL+TCSP  CORRS', x: 16, y: 29, f: 'bold 21px' }, { t: 'DAY', x: 52, y: 66, f: 'bold 21px' }] };
DECO.pd = { xMinor: 10, xMajor: 50, yMinor: 1, yMajor: 5, tropo: tropoNight, linesAfter: 1,
            polys: [{ pts: haloD, kind: 'halo' }, { pts: midD, kind: 'mid' }, { pts: coreD, kind: 'core' }],
            texts: [{ t: 'd: ORIGINAL  DATA', x: 17, y: 29, f: 'bold 21px' }, { t: 'NIGHT', x: 53, y: 66, f: 'bold 21px' }] };
DECO.pe = { xMinor: 10, xMajor: 50, yMinor: 1, yMajor: 5, tropo: tropoNight, linesAfter: 1,
            polys: [{ pts: haloE, kind: 'halo' }, { pts: midE, kind: 'mid' }, { pts: coreE, kind: 'core' }],
            texts: [{ t: 'e: TL+TCSP  CORRS', x: 16, y: 29, f: 'bold 21px' }, { t: 'NIGHT', x: 52, y: 66, f: 'bold 21px' }] };
DECO.pc = { xMinor: 50, xMajor: 200, yMinor: 5, yMajor: 20, guides: rhGuides, textUnder: true,
            texts: rhTexts('c:  TL+TCSP  CORRS', 'DAY') };
DECO.pf = { xMinor: 50, xMajor: 200, yMinor: 5, yMajor: 20, guides: rhGuides, textUnder: true,
            texts: rhTexts('f:  TL+TCSP  CORRS', 'NIGHT') };

panel('pa', { l: 83, t: 51, r: 400, b: 492, wy: 76, hx: 83 }, profX, altY, profileSet(redA, dotsA, flagA));
panel('pb', { l: 462, t: 51, r: 778, b: 492, wy: 40, hx: 83 }, profX, altYn, profileSet(redB, dotsB));
panel('pd', { l: 83, t: 596, r: 400, b: 1041, wy: 76, hx: 77 }, profXb, altY, profileSet(redD, outD, flagD));
panel('pe', { l: 462, t: 596, r: 778, b: 1041, wy: 40, hx: 77 }, profXb, altYn, profileSet(redE, outE));

panel('pc', { l: 883, t: 51, r: 1199, b: 492, wy: 88, hx: 83 }, pX, dY, rhSets([
    { d: cBlackHi, c: COL.black }, { d: cBlackLo, c: COL.black },
    { d: cCyanHi, c: COL.cyan }, { d: cCyanLo, c: COL.cyan },
    { d: cPurpleHi, c: COL.purple }, { d: cPurpleLo, c: COL.purple },
    { d: cYellowHi, c: COL.yellow }, { d: cYellowLo, c: COL.yellow },
    { d: cRedHi, c: COL.red }, { d: cRedLo, c: COL.red },
    { d: cGreenHi, c: COL.green }, { d: cGreenLo, c: COL.green },
    { d: cBlueHi, c: COL.blue }, { d: cBlueLo, c: COL.blue }, { d: cBlueLone, c: COL.blue, lone: true }
]));
panel('pf', { l: 883, t: 596, r: 1199, b: 1041, wy: 88, hx: 77 }, pXb, dY, rhSets([
    { d: fBlackHi, c: COL.black }, { d: fBlackLo, c: COL.black },
    { d: fCyanHi, c: COL.cyan }, { d: fCyanLo, c: COL.cyan },
    { d: fPurpleHi, c: COL.purple }, { d: fPurpleLo, c: COL.purple },
    { d: fYellowHi, c: COL.yellow }, { d: fYellowLo, c: COL.yellow },
    { d: fRedHi, c: COL.red }, { d: fRedLo, c: COL.red },
    { d: fGreenHi, c: COL.green }, { d: fGreenLo, c: COL.green },
    { d: fBlueHi, c: COL.blue }, { d: fBlueLo, c: COL.blue }
]));
</script>
</body>
</html>
